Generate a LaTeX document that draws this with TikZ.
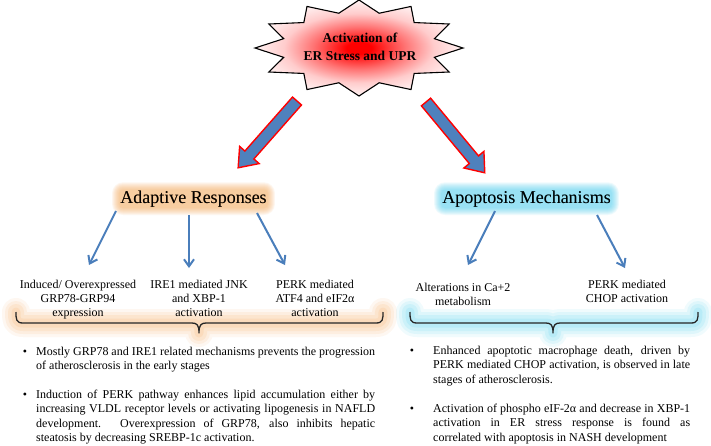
\documentclass[tikz,border=0pt]{standalone}
\usepackage{fontspec}
\setmainfont{Liberation Serif}
\usetikzlibrary{arrows.meta,calc}
\definecolor{arrowblue}{RGB}{74,126,187}
\definecolor{bigblue}{RGB}{79,129,189}
\definecolor{glowOc}{RGB}{247,165,80}
\definecolor{glowCc}{RGB}{70,205,238}
\pgfdeclareradialshading{starshade}{\pgfpoint{0bp}{0bp}}{color(0bp)=(red); color(3bp)=(red); color(11bp)=(red!55!white); color(18bp)=(red!20!white); color(25bp)=(red!5!white); color(50bp)=(red!5!white)}
\begin{document}
\begin{tikzpicture}[x=1pt,y=-1pt,
  thinarrow/.style={draw=arrowblue, line width=2pt, -{Straight Barb[length=7pt,width=10pt]}},
  bigarrow/.style={fill=bigblue, draw=red, line width=1.4pt, line join=miter},
  lbl/.style={font=\fontsize{12}{14}\selectfont, align=center, anchor=base, inner sep=0pt},
  head/.style={font=\fontsize{18}{20}\selectfont, anchor=base, inner sep=0pt},
  para/.style={font=\fontsize{12}{14.5}\selectfont, align=justify, anchor=base west, inner sep=0pt},
  bul/.style={font=\fontsize{12}{14.5}\selectfont, anchor=base, inner sep=0pt},
  bracestyle/.style={draw=black!85, line width=1.3pt, line join=round},
  glowO/.style={preaction={draw=glowOc, draw opacity=.08, line width=28pt, line cap=round, line join=round},
                preaction={draw=glowOc, draw opacity=.10, line width=22pt, line cap=round, line join=round},
                preaction={draw=glowOc, draw opacity=.12, line width=16pt, line cap=round, line join=round},
                preaction={draw=glowOc, draw opacity=.14, line width=9pt, line cap=round, line join=round}},
  glowC/.style={preaction={draw=glowCc, draw opacity=.08, line width=28pt, line cap=round, line join=round},
                preaction={draw=glowCc, draw opacity=.10, line width=22pt, line cap=round, line join=round},
                preaction={draw=glowCc, draw opacity=.12, line width=16pt, line cap=round, line join=round},
                preaction={draw=glowCc, draw opacity=.14, line width=9pt, line cap=round, line join=round}}
]
\useasboundingbox (0,0) rectangle (711,445);
\fill[white] (0,0) rectangle (711,445);

% star
\begin{scope}[shift={(359,48)}]
\draw[line width=1.1pt, line join=miter, shade, shading=starshade] (0,-48)
  \foreach \i [evaluate=\i as \rx using {mod(\i,2)==0 ? 104 : 78},
               evaluate=\i as \ry using {mod(\i,2)==0 ? 48 : 36}] in {1,...,23} { -- ({\rx*cos(90+15*\i)},{-\ry*sin(90+15*\i)}) } -- cycle;
\end{scope}
\node[font=\bfseries\fontsize{13.5}{17.5}\selectfont, align=center, anchor=base, inner sep=0pt] (star) at (360,60) {Activation of\\ER Stress and UPR};

% big arrows
\begin{scope}[shift={(297,101)}, rotate=-131.4]
\draw[bigarrow] (0,-6) -- (72,-6) -- (72,-13) -- (89,0) -- (72,13) -- (72,6) -- (0,6) -- cycle;
\end{scope}
\begin{scope}[shift={(426,102)}, rotate=-50.3]
\draw[bigarrow] (0,-6) -- (75,-6) -- (75,-13) -- (92,0) -- (75,13) -- (75,6) -- (0,6) -- cycle;
\end{scope}

% headings
\node[head] (adapt) at (193.5,203) {Adaptive Responses};
\node[head] (apop) at (526.5,203) {Apoptosis Mechanisms};
\foreach \e in {8,7,6,5,4,3,2,1}{
  \fill[glowOc, opacity=.09, rounded corners=\e pt+3pt] ($(adapt.south west)+(-\e,\e)$) rectangle ($(adapt.north east)+(\e,-\e)$);
  \fill[glowCc, opacity=.09, rounded corners=\e pt+3pt] ($(apop.south west)+(-\e,\e)$) rectangle ($(apop.north east)+(\e,-\e)$);
}
\node[head] at (adapt.base) {Adaptive Responses};
\node[head] at (apop.base) {Apoptosis Mechanisms};

% arrow end points
\coordinate (a1s) at (116,211); \coordinate (a1e) at (89,265);
\coordinate (a2s) at (189,215); \coordinate (a2e) at (189,268);
\coordinate (a3s) at (257,213); \coordinate (a3e) at (285,265);
\coordinate (a4s) at (495,211); \coordinate (a4e) at (468,265);
\coordinate (a5s) at (597,215); \coordinate (a5e) at (625,268);
\draw[thinarrow] (a1s) -- (a1e);
\draw[thinarrow] (a2s) -- (a2e);
\draw[thinarrow] (a3s) -- (a3e);
\draw[thinarrow] (a4s) -- (a4e);
\draw[thinarrow] (a5s) -- (a5e);

% braces
\draw[bracestyle, glowO] (16,312) .. controls (16,319) and (16,323) .. (23,323) -- (192,323)
  .. controls (197,323) and (199,325) .. (199,333) .. controls (199,325) and (201,323) .. (206,323)
  -- (376,323) .. controls (383,323) and (383,319) .. (383,312);
\draw[bracestyle, glowC] (410,312) .. controls (410,319) and (410,323) .. (417,323) -- (546,323)
  .. controls (551,323) and (553,325) .. (553,333) .. controls (553,325) and (555,323) .. (560,323)
  -- (691,323) .. controls (698,323) and (698,319) .. (698,312);

% labels (anchor base = last line)
\node[lbl] (l1) at (78,316) {Induced/ Overexpressed\\GRP78-GRP94\\expression};
\node[lbl] (l2) at (199,316) {IRE1 mediated JNK\\and XBP-1\\activation};
\node[lbl] (l3) at (315,316) {PERK mediated\\ATF4 and eIF2α\\activation};
\node[lbl] (r1) at (463,305) {Alterations in Ca+2\\metabolism};
\node[lbl] (r2) at (627,302) {PERK mediated\\CHOP activation};

% bullets
\node[bul] (lb1) at (25,355) {\textbullet};
\node[bul] (lb2) at (25,398) {\textbullet};
\node[bul] (rb1) at (412,354) {\textbullet};
\node[bul] (rb2) at (412,412) {\textbullet};
\node[para, text width=339pt] (lp1) at (36,355) {Mostly GRP78 and IRE1 related mechanisms prevents the progression\linebreak of atherosclerosis in the early stages};
\node[para, text width=339pt] (lp2) at (36,398) {Induction of PERK pathway enhances lipid accumulation either by\linebreak increasing VLDL receptor levels or activating lipogenesis in NAFLD\linebreak development. Overexpression of GRP78, also inhibits hepatic\linebreak steatosis by decreasing SREBP-1c activation.};
\node[para, text width=257pt] (rp1) at (433,354) {Enhanced apoptotic macrophage death, driven by\linebreak PERK mediated CHOP activation, is observed in late\linebreak stages of atherosclerosis.};
\node[para, text width=257pt] (rp2) at (433,412) {Activation of phospho eIF-2α and decrease in XBP-1\linebreak activation in ER stress response is found as\linebreak correlated with apoptosis in NASH development};
\end{tikzpicture}
\end{document}
